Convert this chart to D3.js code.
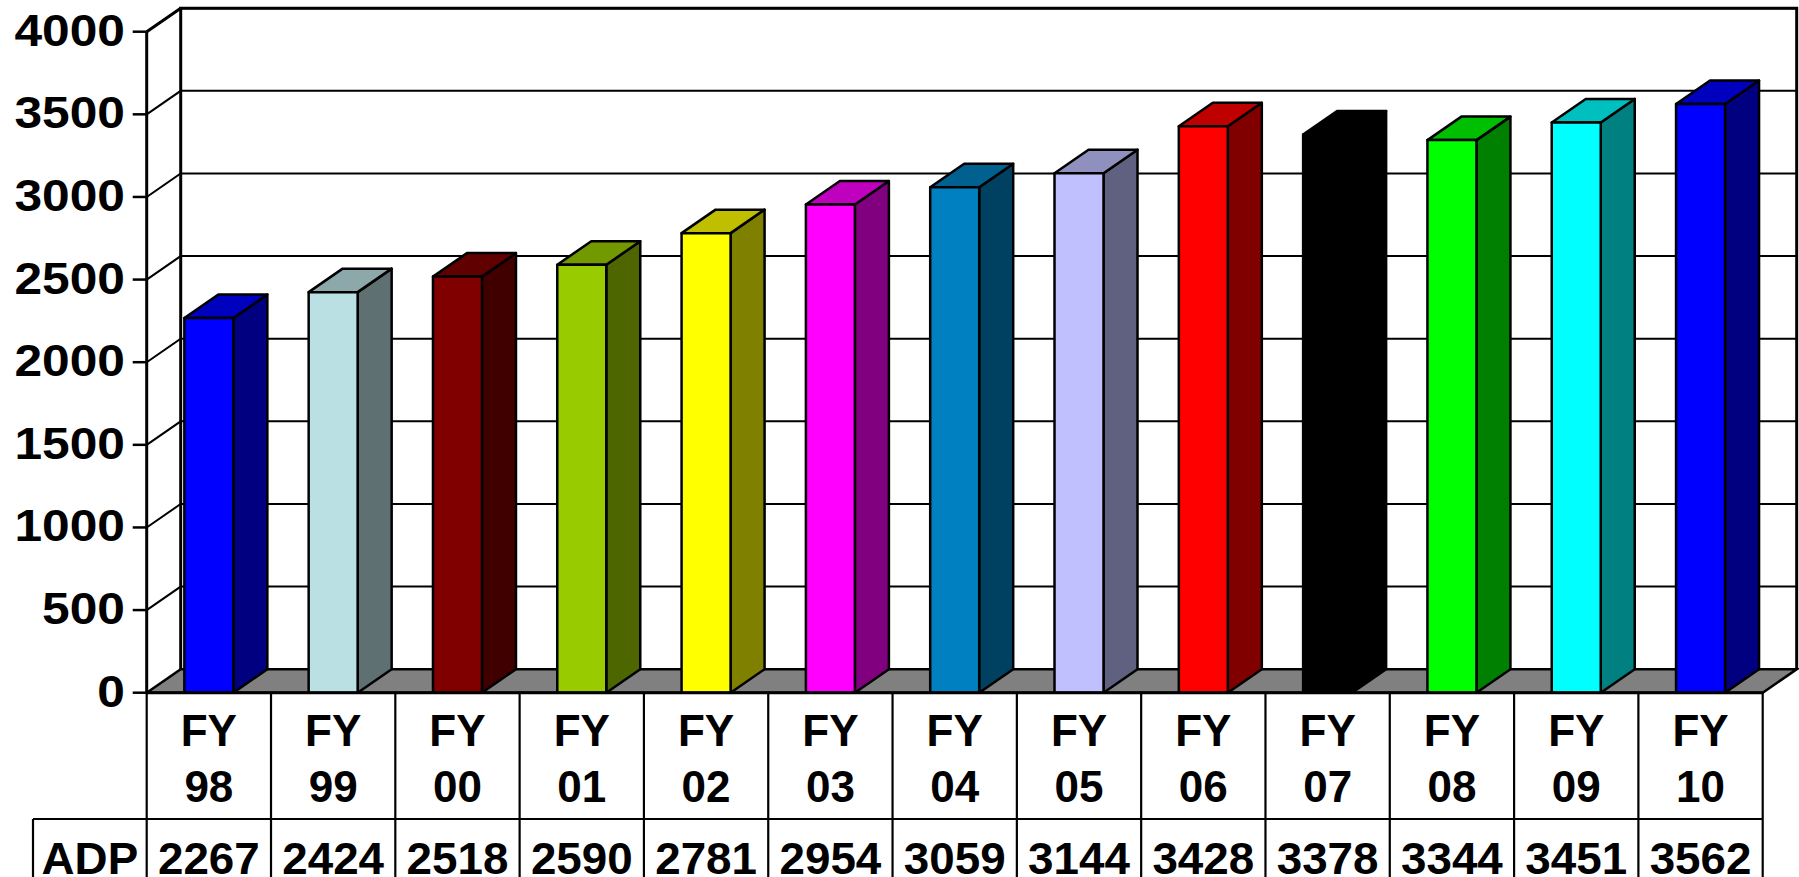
<!DOCTYPE html>
<html>
<head>
<meta charset="utf-8">
<script src="https://cdn.jsdelivr.net/npm/d3@7"></script>
<style>
  body { margin: 0; background: #fff; }
  svg { display: block; }
  text { font-family: "Liberation Sans", Arial, sans-serif; font-weight: bold; fill: #000; }
</style>
</head>
<body>
<svg id="chart"></svg>
<script>
// data
const years = ['98', '99', '00', '01', '02', '03', '04', '05', '06', '07', '08', '09', '10'];
const adp = [2267, 2424, 2518, 2590, 2781, 2954, 3059, 3144, 3428, 3378, 3344, 3451, 3562];
const yTicks = [0, 500, 1000, 1500, 2000, 2500, 3000, 3500, 4000];
const rowLabel = 'ADP';
const barColors = ['#0000ff', '#bbe0e3', '#800000', '#99cc00', '#ffff00', '#ff00ff', '#0080c0',
  '#c0c0ff', '#ff0000', '#000000', '#00ff00', '#00ffff', '#0000ff'];

const width = 1799, height = 877;
const depthX = 34, depthY = 23.5;

const x = d3.scaleBand().domain(years).range([146.7, 1762.7]).paddingInner(0).paddingOuter(0);
const y = d3.scaleLinear().domain([0, 4000]).range([692.7, 31.7]);
const barW = 49;

const shade = (c, k) => {
  let col = d3.rgb(c);
  return d3.rgb(col.r * k, col.g * k, col.b * k).formatHex();
};

const svg = d3.select('#chart').attr('width', width).attr('height', height);

const x0 = x.range()[0], x1 = x.range()[1], y0 = y(0);

// floor
svg.append('path')
  .attr('d', `M${x0},${y0}L${x0 + depthX},${y0 - depthY}L${x1 + depthX},${y0 - depthY}L${x1},${y0}Z`)
  .attr('fill', '#808080').attr('stroke', '#000').attr('stroke-width', 2.5);

// grid lines, back wall + side wall
const grid = svg.append('g').attr('class', 'grid');
grid.selectAll('.gl')
  .data(yTicks.filter(d => d > 0))
  .enter().append('path')
  .attr('d', d => `M${x0},${y(d)}L${x0 + depthX},${y(d) - depthY}L${x1 + depthX},${y(d) - depthY}`)
  .attr('fill', 'none').attr('stroke', '#000').attr('stroke-width', 2);

// back wall frame
svg.append('path')
  .attr('d', `M${x0 + depthX},${y0 - depthY}V${y(4000) - depthY}H${x1 + depthX}V${y0 - depthY}`)
  .attr('fill', 'none').attr('stroke', '#000').attr('stroke-width', 3);

// bars
const bars = svg.selectAll('.bar')
  .data(years.map((d, i) => ({ year: d, value: adp[i], color: barColors[i] })))
  .enter().append('g').attr('class', 'bar');

bars.each(function (d) {
  let g = d3.select(this);
  let cx = x(d.year) + x.bandwidth() / 2;
  let l = cx - barW / 2, r = cx + barW / 2, t = y(d.value);
  // side
  g.append('path')
    .attr('d', `M${r},${t}L${r + depthX},${t - depthY}L${r + depthX},${y0 - depthY}L${r},${y0}Z`)
    .attr('fill', shade(d.color, 0.5));
  // top
  g.append('path')
    .attr('d', `M${l},${t}L${l + depthX},${t - depthY}L${r + depthX},${t - depthY}L${r},${t}Z`)
    .attr('fill', shade(d.color, 0.75));
  // front
  g.append('rect')
    .attr('x', l).attr('y', t).attr('width', barW).attr('height', y0 - t)
    .attr('fill', d.color);
  g.selectAll('path, rect').attr('stroke', '#000').attr('stroke-width', 2.5).attr('stroke-linejoin', 'round');
});

// y axis
const axis = svg.append('g').attr('class', 'axis');
axis.append('line')
  .attr('x1', x0).attr('x2', x0).attr('y1', y(4000)).attr('y2', y0)
  .attr('stroke', '#000').attr('stroke-width', 3);
axis.append('line')
  .attr('x1', x0).attr('x2', x0 + depthX).attr('y1', y(4000)).attr('y2', y(4000) - depthY)
  .attr('stroke', '#000').attr('stroke-width', 3);
axis.selectAll('.tick')
  .data(yTicks)
  .enter().append('line')
  .attr('x1', x0 - 14).attr('x2', x0).attr('y1', d => y(d)).attr('y2', d => y(d))
  .attr('stroke', '#000').attr('stroke-width', 2.5);
// tick labels are drawn a bit wider than normal in the original
axis.selectAll('.tlabel')
  .data(yTicks)
  .enter().append('text')
  .attr('text-anchor', 'end')
  .attr('font-size', 44)
  .attr('transform', d => `translate(125,${y(d) + 14}) scale(1.13,1)`)
  .text(d => d);

// data table under the chart
const rowTop = 819, bottom = height + 5;
const table = svg.append('g').attr('class', 'table').attr('stroke', '#000').attr('stroke-width', 2.2);
table.append('line').attr('x1', x0).attr('x2', x1).attr('y1', y0).attr('y2', y0).attr('stroke-width', 3);
table.append('line').attr('x1', 33).attr('x2', x1).attr('y1', rowTop).attr('y2', rowTop);
table.append('line').attr('x1', 33).attr('x2', 33).attr('y1', rowTop).attr('y2', bottom);
table.selectAll('.vl')
  .data(years.concat(['end']))
  .enter().append('line')
  .attr('x1', (d, i) => x0 + i * x.bandwidth())
  .attr('x2', (d, i) => x0 + i * x.bandwidth())
  .attr('y1', y0).attr('y2', bottom);

const cats = svg.append('g').selectAll('.cat')
  .data(years)
  .enter().append('g')
  .attr('transform', d => `translate(${x(d) + x.bandwidth() / 2},0)`);
cats.append('text')
  .attr('text-anchor', 'middle').attr('font-size', 44)
  .attr('y', 745.7)
  .text('FY');
cats.append('text')
  .attr('text-anchor', 'middle').attr('font-size', 44)
  .attr('y', 801.7)
  .text(d => d);

svg.append('text')
  .attr('text-anchor', 'middle').attr('font-size', 44)
  .attr('transform', `translate(${(33 + x0) / 2},874) scale(1.04,1)`)
  .text(rowLabel);
svg.selectAll('.val')
  .data(years.map((d, i) => ({ year: d, value: adp[i] })))
  .enter().append('text')
  .attr('text-anchor', 'middle').attr('font-size', 44)
  .attr('transform', d => `translate(${x(d.year) + x.bandwidth() / 2},874) scale(1.04,1)`)
  .text(d => d.value);
</script>
</body>
</html>
